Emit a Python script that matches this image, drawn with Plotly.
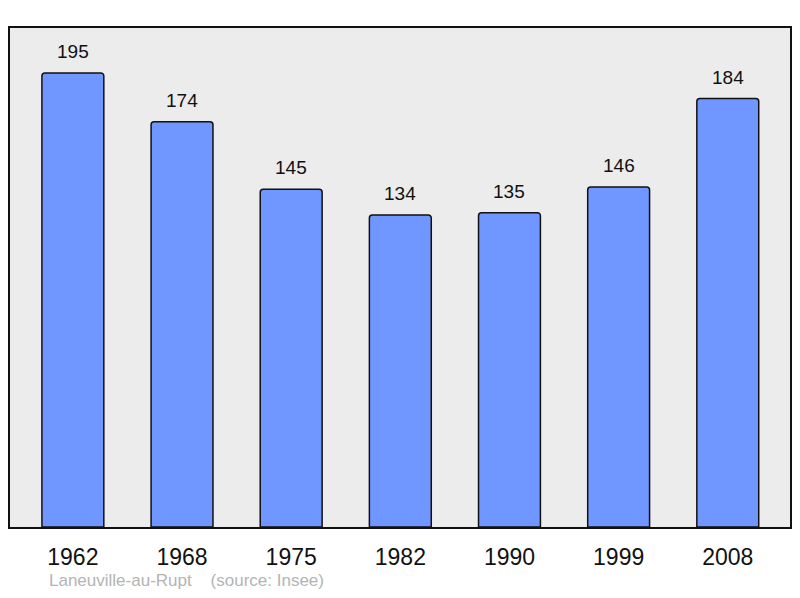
import plotly.graph_objects as go

years = ["1962", "1968", "1975", "1982", "1990", "1999", "2008"]
population = [195, 174, 145, 134, 135, 146, 184]
commune = "Laneuville-au-Rupt"
source = "(source: Insee)"

fig = go.Figure()
fig.add_trace(go.Bar(
    x=years,
    y=population,
    width=0.567,
    marker=dict(color="#7096ff", line=dict(color="#111111", width=1.5),
                cornerradius=3),
    hoverinfo="x+y",
))

# value labels above bars (x by category index)
for i, val in enumerate(population):
    fig.add_annotation(x=i, y=val, text=str(val), showarrow=False,
                       yanchor="bottom", yshift=9,
                       font=dict(size=19, color="#111111"))

fig.add_annotation(xref="paper", yref="paper", x=0.047, y=-0.108,
                   xanchor="left", yanchor="middle", showarrow=False,
                   text=commune + "    " + source,
                   font=dict(size=17, color="#b4b4b4"))

# page body has an 8px margin, so the figure is 16px smaller than the window
fig.update_layout(
    width=784, height=582,
    margin=dict(l=2, r=0, t=20, b=63),
    paper_bgcolor="white",
    plot_bgcolor="#ececec",
    font=dict(family="Liberation Sans, Arial, sans-serif"),
    showlegend=False,
    xaxis=dict(type="category", range=[-0.576, 6.57], showline=True,
               mirror=True, linecolor="#111111", linewidth=2,
               ticks="outside", ticklen=8, tickcolor="rgba(0,0,0,0)",
               tickfont=dict(size=23, color="#111111"), showgrid=False),
    yaxis=dict(range=[0, 214.3], showline=True, mirror=True,
               linecolor="#111111", linewidth=2, showticklabels=False,
               showgrid=False, zeroline=False),
)

fig.write_html("out.html")
